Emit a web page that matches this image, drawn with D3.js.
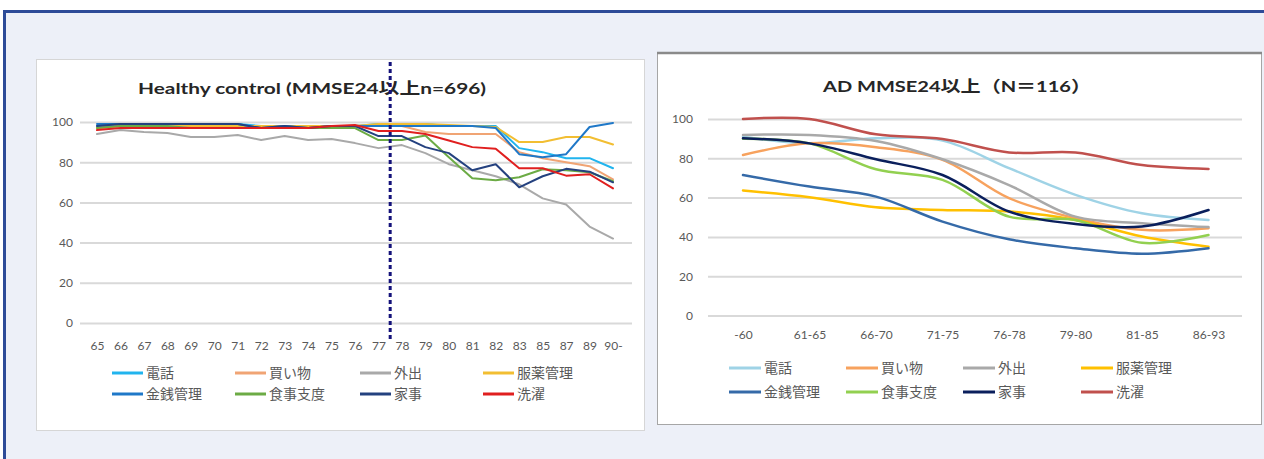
<!DOCTYPE html>
<html>
<head>
<meta charset="utf-8">
<script src="https://cdn.jsdelivr.net/npm/d3@7/dist/d3.min.js"></script>
<style>
  html, body { margin: 0; padding: 0; background: #ffffff; }
  svg { display: block; }
  text { font-family: Lato, "Noto Sans CJK JP", sans-serif; }
</style>
</head>
<body>
<svg id="chart" width="1264" height="459"></svg>
<script>
// ---- series names (shared by both panels) ----
const seriesNames = ["電話", "買い物", "外出", "服薬管理", "金銭管理", "食事支度", "家事", "洗濯"];

// ---- left panel: healthy controls by age ----
const hcTitle = "Healthy control (MMSE24以上n=696)";
const hcAges = ["65","66","67","68","69","70","71","72","73","74","75","76","77","78","79","80","81","82","83","85","87","89","90-"];
const hcPhone    = [98, 99, 99, 99, 99, 99, 99, 98, 98, 98, 98, 98, 99, 99, 99, 98, 98, 98, 87, 85, 82, 82, 77];
const hcShopping = [97, 98, 98, 98.5, 98, 98, 98, 98, 98, 98, 98, 98, 98, 98, 95, 94, 94, 94, 85, 82, 80, 78, 71.5];
const hcOuting   = [94, 96, 95, 94.5, 92.5, 92.5, 93.5, 91, 93, 91, 91.5, 89.5, 87, 88.5, 84.5, 79, 76, 73, 69, 62, 59, 48, 42];
const hcMedicine = [97, 98, 98, 99, 98, 98, 98, 98, 98, 98, 98, 98, 99, 99, 99, 98.5, 98, 97.5, 90, 90, 92.5, 92.5, 88.8];
const hcMoney    = [99, 99, 99, 99, 99, 99, 99, 97, 98, 97, 98, 98, 98, 98, 98, 98, 98, 97, 84, 82.5, 84, 97.5, 99.5];
const hcCooking  = [97, 98, 98, 98, 97, 97, 97, 97, 97, 97, 97, 97, 91, 91, 93.3, 82.5, 72, 71, 72.5, 76.5, 76, 75, 70.5];
const hcHousework= [98, 99, 99, 99, 99, 99, 99, 97, 98, 97, 98, 98, 93, 93, 87.5, 84.5, 76, 79, 67.5, 73, 76.7, 75.3, 70];
const hcLaundry  = [96, 97, 97, 97, 97, 97, 97, 97, 97, 97, 98, 98.5, 95.5, 95.5, 94, 90.8, 87.5, 86.7, 77, 77, 73.3, 74, 67];
const hcColors = ["#21b4ee", "#f0a474", "#a9a9a9", "#f2be32", "#1f78c8", "#6cab45", "#24417f", "#e01f1f"];
const hcCutBefore = "77", hcCutAfter = "78";

// ---- right panel: AD patients by age band ----
const adTitle = "AD MMSE24以上（N＝116）";
const adAges = ["-60", "61-65", "66-70", "71-75", "76-78", "79-80", "81-85", "86-93"];
const adPhone    = [91, 87.6, 90.2, 89, 75, 61.4, 52, 48.6];
const adShopping = [81.7, 87.6, 85.6, 79.2, 59.7, 49.5, 43.6, 44.4];
const adOuting   = [91.9, 91.9, 88.8, 79.5, 66.4, 50.3, 47, 45];
const adMedicine = [63.6, 60.2, 55.1, 53.7, 52.9, 48.6, 40.2, 35];
const adMoney    = [71.5, 65.6, 60.5, 47.8, 38.8, 34.2, 31.4, 34.2];
const adCooking  = [90, 87.6, 74.4, 69, 50.3, 48.6, 37, 41];
const adHousework= [90.2, 87.6, 79.5, 71.5, 52.9, 46.6, 45.3, 53.7];
const adLaundry  = [100, 100, 92.2, 89.8, 83, 83, 76.6, 74.6];
const adColors = ["#9fd3e6", "#f7a25e", "#a9a9a9", "#ffc000", "#356aa8", "#92d050", "#0a1f5c", "#c0504d"];

const yTicks = [0, 20, 40, 60, 80, 100];

const svg = d3.select("#chart");

// ---- page frame ----
svg.append("rect").attr("x", 4.5).attr("y", 11.5).attr("width", 1300).attr("height", 500)
  .attr("fill", "#edf0f8").attr("stroke", "#2d4b98").attr("stroke-width", 3);

function drawPanel(cfg) {
  const g = svg.append("g");
  // panel background
  g.append("rect").attr("x", cfg.box[0] + 0.5).attr("y", cfg.box[1] + 0.5)
    .attr("width", cfg.box[2]).attr("height", cfg.box[3])
    .attr("fill", "#ffffff").attr("stroke", cfg.boxStroke).attr("stroke-width", 1);
  if (cfg.topShade) {
    g.append("line").attr("x1", cfg.box[0]).attr("x2", cfg.box[0] + cfg.box[2] + 1)
      .attr("y1", cfg.box[1] + 1).attr("y2", cfg.box[1] + 1)
      .attr("stroke", "#8a8a8a").attr("stroke-width", 2.5);
  }

  const x = d3.scalePoint().domain(cfg.cats).range(cfg.xRange);
  const y = d3.scaleLinear().domain([0, 100]).range(cfg.yRange);

  // horizontal gridlines
  g.append("g").attr("transform", `translate(${cfg.gridX[1]},0)`)
    .call(d3.axisRight(y).tickValues(yTicks).tickSize(-(cfg.gridX[1] - cfg.gridX[0])).tickFormat(""))
    .call(s => s.select(".domain").remove())
    .call(s => s.selectAll("line").attr("stroke", "#d9d9d9").attr("stroke-width", 2));

  // y labels
  g.append("g").attr("transform", `translate(${cfg.yLabelX},0)`)
    .call(d3.axisLeft(y).tickValues(yTicks).tickSize(0).tickPadding(0))
    .call(s => s.select(".domain").remove())
    .call(s => s.selectAll("text").attr("fill", "#595959").style("font-size", "12px")
      .style("font-family", "Lato, sans-serif"));

  // x labels
  g.append("g").attr("transform", `translate(0,${cfg.xLabelY})`)
    .call(d3.axisBottom(x).tickSize(0).tickPadding(0))
    .call(s => s.select(".domain").remove())
    .call(s => s.selectAll("text").attr("fill", "#595959").style("font-size", cfg.xFont)
      .style("font-family", "Lato, sans-serif"));

  // title
  g.append("text").attr("x", cfg.titleX).attr("y", cfg.titleY)
    .attr("text-anchor", "middle").attr("font-weight", "bold")
    .attr("fill", "#262626").style("font-size", "16px")
    .attr("textLength", cfg.titleLen).attr("lengthAdjust", "spacingAndGlyphs")
    .text(cfg.title);

  // series lines
  const line = d3.line().x((d, i) => x(cfg.cats[i])).y(d => y(d)).curve(cfg.curve);
  cfg.series.forEach((vals, k) => {
    g.append("path").datum(vals).attr("d", line)
      .attr("fill", "none").attr("stroke", cfg.colors[k])
      .attr("stroke-width", cfg.lineWidth).attr("stroke-linejoin", "round").attr("stroke-linecap", "round");
  });

  // legend
  seriesNames.forEach((name, k) => {
    const col = k % 4, row = Math.floor(k / 4);
    const lx = cfg.legendX[col], ly = cfg.legendY[row];
    g.append("line").attr("x1", lx).attr("x2", lx + cfg.legendLine).attr("y1", ly).attr("y2", ly)
      .attr("stroke", cfg.colors[k]).attr("stroke-width", 3);
    g.append("text").attr("x", lx + cfg.legendLine + 3).attr("y", ly).attr("dy", "0.35em")
      .attr("fill", "#595959").style("font-size", "14px")
      .style("font-family", "'Noto Sans CJK JP', sans-serif").text(name);
  });

  return { g, x, y };
}

// left panel
const left = drawPanel({
  box: [36, 59, 608, 371], boxStroke: "#d6d6d6", topShade: false,
  cats: hcAges, xRange: [97, 613], yRange: [323, 122], gridX: [80, 632],
  yLabelX: 73, xLabelY: 341, xFont: "12px",
  title: hcTitle, titleX: 312, titleY: 94, titleLen: 348,
  series: [hcPhone, hcShopping, hcOuting, hcMedicine, hcMoney, hcCooking, hcHousework, hcLaundry],
  colors: hcColors, lineWidth: 2, curve: d3.curveLinear,
  legendX: [112, 235, 360, 483], legendY: [373, 394], legendLine: 31
});

// dotted divider between the two age groups
const cutX = (left.x(hcCutBefore) + left.x(hcCutAfter)) / 2;
left.g.append("line").attr("x1", cutX).attr("x2", cutX).attr("y1", 62).attr("y2", 340)
  .attr("stroke", "#14127a").attr("stroke-width", 3).attr("stroke-dasharray", "4,3");

// right panel
drawPanel({
  box: [657, 52, 604, 372], boxStroke: "#a6a6a6", topShade: true,
  cats: adAges, xRange: [743, 1208.5], yRange: [315.5, 119], gridX: [708, 1242],
  yLabelX: 693, xLabelY: 330, xFont: "12px",
  title: adTitle, titleX: 957, titleY: 92, titleLen: 268,
  series: [adPhone, adShopping, adOuting, adMedicine, adMoney, adCooking, adHousework, adLaundry],
  colors: adColors, lineWidth: 2.5, curve: d3.curveCatmullRom.alpha(0.5),
  legendX: [729, 846, 963, 1081], legendY: [368, 392], legendLine: 32
});
</script>
</body>
</html>
